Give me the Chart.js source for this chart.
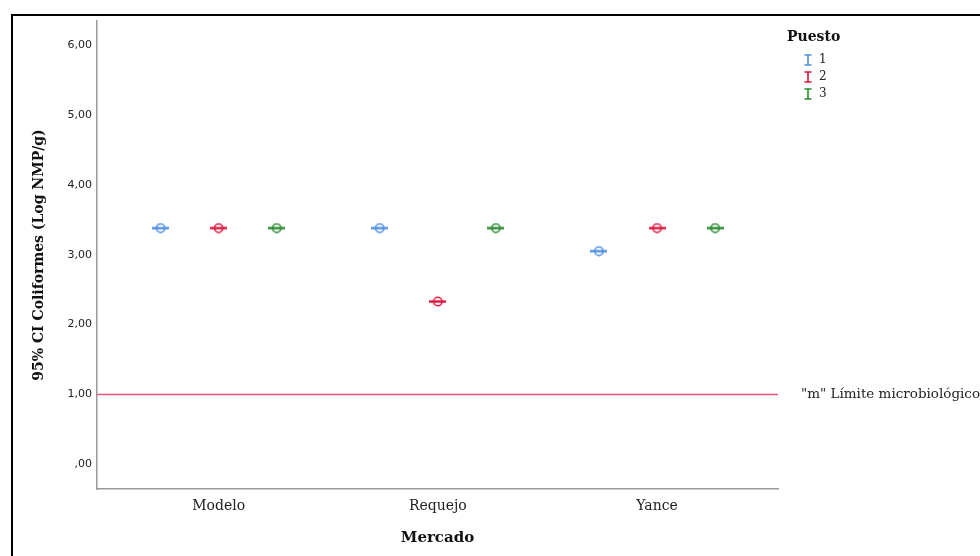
<!DOCTYPE html>
<html>
<head>
<meta charset="utf-8">
<script src="https://cdn.jsdelivr.net/npm/chart.js@4.4.1/dist/chart.umd.min.js"></script>
<style>
  html, body { margin: 0; padding: 0; background: #fff; overflow: hidden; }
  #wrap { position: relative; width: 980px; height: 556px; overflow: hidden; }
  #frame { position: absolute; left: 11px; top: 14px; width: 1100px; height: 700px; border: 2px solid #000; }
  #chart { position: absolute; left: 0; top: 0; }
</style>
</head>
<body>
<div id="wrap">
  <div id="frame"></div>
  <canvas id="chart" width="980" height="556"></canvas>
</div>
<script>
// Mercado categories and the 95% CI (Log NMP/g) per puesto
const markets = ["Modelo", "Requejo", "Yance"];
const puesto1 = [3.38, 3.38, 3.05];
const puesto2 = [3.38, 2.33, 3.38];
const puesto3 = [3.38, 3.38, 3.38];
const yTicks = [0, 1, 2, 3, 4, 5, 6];
const limitValue = 1.0;
const limitLabel = '"m" Límite microbiológico';

const colors = ["#4f8fe0", "#dc143c", "#2a8a2f"];
const serif = "'DejaVu Serif', serif";

// circle with horizontal bar, like the collapsed CI marker
function makeMarker(color) {
  const c = document.createElement("canvas");
  c.width = 17;
  c.height = 11;
  const g = c.getContext("2d");
  g.strokeStyle = color;
  g.lineWidth = 2.4;
  g.beginPath();
  g.moveTo(0, 5.5);
  g.lineTo(17, 5.5);
  g.stroke();
  g.lineWidth = 1.5;
  g.beginPath();
  g.arc(8.5, 5.5, 4.2, 0, Math.PI * 2);
  g.stroke();
  return c;
}

const groupOffset = 0.265;
function toPoints(values, k) {
  return values.map((v, i) => ({ x: i + 1 + (k - 1) * groupOffset, y: v }));
}

const refLinePlugin = {
  id: "refLine",
  afterDatasetsDraw(chart) {
    const { ctx, chartArea, scales } = chart;
    const y = scales.y.getPixelForValue(limitValue);
    ctx.save();
    ctx.strokeStyle = "#e05577";
    ctx.lineWidth = 1.5;
    ctx.beginPath();
    ctx.moveTo(chartArea.left, y);
    ctx.lineTo(chartArea.right, y);
    ctx.stroke();
    ctx.fillStyle = "#222";
    ctx.font = "13.5px " + serif;
    ctx.textBaseline = "middle";
    ctx.fillText(limitLabel, 801, y);

    // legend
    ctx.font = "bold 14px " + serif;
    ctx.fillStyle = "#111";
    ctx.fillText("Puesto", 787, 37);
    ctx.font = "12px " + serif;
    ["1", "2", "3"].forEach((lab, i) => {
      const ly = 60 + i * 17;
      ctx.strokeStyle = colors[i];
      ctx.lineWidth = 1.6;
      ctx.beginPath();
      ctx.moveTo(804.5, ly - 5); ctx.lineTo(811.5, ly - 5);
      ctx.moveTo(808, ly - 5); ctx.lineTo(808, ly + 5);
      ctx.moveTo(804.5, ly + 5); ctx.lineTo(811.5, ly + 5);
      ctx.stroke();
      ctx.fillStyle = "#222";
      ctx.fillText(lab, 819, ly);
    });
    ctx.restore();
  }
};

new Chart(document.getElementById("chart"), {
  type: "scatter",
  data: {
    datasets: [puesto1, puesto2, puesto3].map((vals, k) => ({
      label: String(k + 1),
      data: toPoints(vals, k),
      pointStyle: makeMarker(colors[k]),
      borderColor: colors[k],
      backgroundColor: colors[k]
    }))
  },
  options: {
    responsive: false,
    animation: false,
    layout: { padding: { top: 21, right: 202, left: 0, bottom: 0 } },
    plugins: { legend: { display: false }, tooltip: { enabled: false } },
    scales: {
      x: {
        type: "linear",
        min: 0.445,
        max: 3.552,
        afterBuildTicks: s => { s.ticks = markets.map((m, i) => ({ value: i + 1 })); },
        afterFit: s => { s.height = 67; },
        grid: { display: false, drawTicks: false },
        border: { display: true, color: "#9a9a9a", width: 1.5 },
        ticks: {
          padding: 9,
          color: "#222",
          font: { family: serif, size: 14 },
          callback: v => markets[Math.round(v) - 1]
        },
        title: {
          display: true,
          text: "Mercado",
          color: "#111",
          font: { family: serif, size: 15, weight: "bold" },
          padding: { top: 0, bottom: 9 }
        }
      },
      y: {
        min: -0.35,
        max: 6.34,
        afterBuildTicks: s => { s.ticks = yTicks.map(v => ({ value: v })); },
        afterFit: s => { s.width = 97; },
        grid: { display: false, drawTicks: false },
        border: { display: true, color: "#9a9a9a", width: 1.5 },
        ticks: {
          padding: 5,
          color: "#222",
          font: { family: "'DejaVu Sans', sans-serif", size: 11 },
          callback: v => (v === 0 ? ",00" : v.toFixed(2).replace(".", ","))
        },
        title: {
          display: true,
          text: "95% CI Coliformes (Log NMP/g)",
          color: "#111",
          font: { family: serif, size: 14, weight: "bold" },
          padding: { top: 31, bottom: 0 }
        }
      }
    }
  },
  plugins: [refLinePlugin]
});
</script>
</body>
</html>
